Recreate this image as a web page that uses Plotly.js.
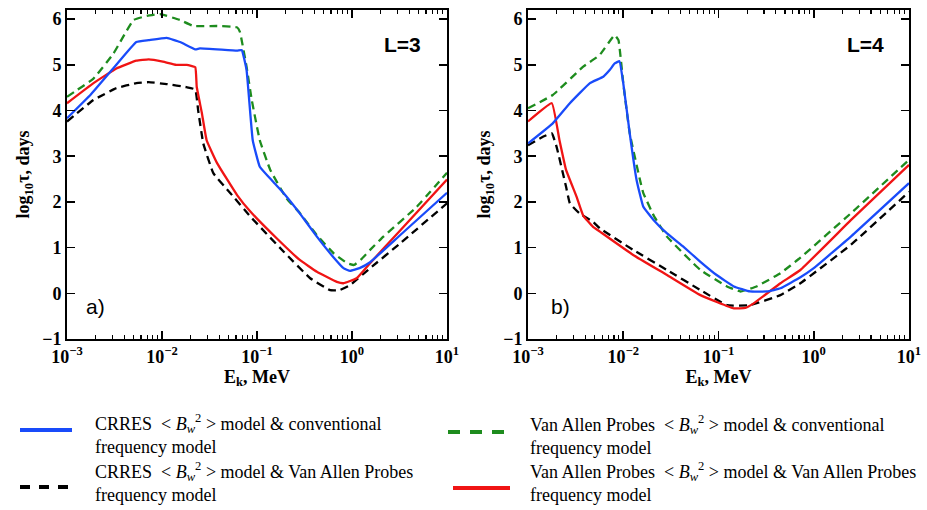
<!DOCTYPE html>
<html>
<head>
<meta charset="utf-8">
<script src="https://cdn.plot.ly/plotly-3.0.1.min.js"></script>
<style>html,body{margin:0;padding:0;background:#fff;}#chart{width:927px;height:510px;}</style>
</head>
<body>
<div id="chart"></div>
<script>
// ---------- Data (E_k in MeV, log10 tau in days) ----------
// Panel a) L=3
const L3_blue_E   = [0.001, 0.00178, 0.00309, 0.00537, 0.00724, 0.0112, 0.0155, 0.0224, 0.0251, 0.0617, 0.0692, 0.0776, 0.0902, 0.107, 0.148, 0.191, 0.282, 0.427, 0.631, 0.813, 0.955, 1.2, 1.55, 3.16, 10];
const L3_blue_tau = [3.83, 4.35, 4.93, 5.5, 5.54, 5.59, 5.5, 5.34, 5.36, 5.31, 5.32, 4.89, 3.35, 2.77, 2.44, 2.19, 1.75, 1.24, 0.8, 0.55, 0.49, 0.55, 0.68, 1.26, 2.2];

const L3_green_E   = [0.001, 0.0019, 0.00309, 0.00501, 0.00692, 0.00955, 0.0155, 0.0214, 0.038, 0.0617, 0.0661, 0.0776, 0.0881, 0.107, 0.138, 0.204, 0.282, 0.427, 0.646, 0.891, 1.05, 1.26, 1.55, 2.14, 4.79, 10];
const L3_green_tau = [4.3, 4.7, 5.25, 5.98, 6.07, 6.11, 5.98, 5.85, 5.85, 5.82, 5.72, 4.96, 4.23, 3.35, 2.7, 2.08, 1.76, 1.27, 0.87, 0.66, 0.62, 0.75, 0.95, 1.24, 1.89, 2.64];

const L3_red_E   = [0.001, 0.0019, 0.00331, 0.00537, 0.00724, 0.0102, 0.0141, 0.0182, 0.0224, 0.0232, 0.0263, 0.0295, 0.038, 0.0617, 0.0851, 0.162, 0.282, 0.427, 0.692, 0.813, 1.12, 1.55, 3.16, 10];
const L3_red_tau = [4.16, 4.6, 4.92, 5.09, 5.12, 5.07, 5.0, 5.0, 4.95, 4.52, 3.94, 3.35, 2.85, 2.15, 1.79, 1.2, 0.73, 0.47, 0.25, 0.22, 0.33, 0.66, 1.36, 2.49];

const L3_black_E   = [0.001, 0.0019, 0.00331, 0.00537, 0.00724, 0.0112, 0.0182, 0.0224, 0.024, 0.0272, 0.0347, 0.0525, 0.0851, 0.191, 0.363, 0.589, 0.741, 0.955, 1.55, 3.16, 10];
const L3_black_tau = [3.76, 4.23, 4.49, 4.6, 4.62, 4.58, 4.51, 4.46, 4.01, 3.28, 2.63, 2.19, 1.68, 0.91, 0.33, 0.07, 0.07, 0.18, 0.55, 1.08, 1.97];

// Panel b) L=4
const L4_blue_E   = [0.001, 0.00182, 0.00275, 0.00447, 0.00617, 0.00724, 0.00813, 0.00912, 0.01, 0.0117, 0.0138, 0.0162, 0.0209, 0.0288, 0.0427, 0.0646, 0.0955, 0.145, 0.214, 0.324, 0.447, 0.724, 1.0, 2.45, 10];
const L4_blue_tau = [3.28, 3.72, 4.16, 4.6, 4.74, 4.89, 5.03, 5.08, 4.6, 3.5, 2.48, 1.9, 1.6, 1.31, 1.02, 0.69, 0.4, 0.15, 0.04, 0.04, 0.11, 0.35, 0.55, 1.24, 2.41];

const L4_green_E   = [0.001, 0.00182, 0.0038, 0.00562, 0.00813, 0.00891, 0.01, 0.0117, 0.0151, 0.0162, 0.0209, 0.0288, 0.0646, 0.123, 0.17, 0.251, 0.447, 0.724, 2.45, 10];
const L4_green_tau = [4.05, 4.34, 4.96, 5.21, 5.65, 5.54, 4.6, 3.5, 2.45, 2.2, 1.7, 1.24, 0.51, 0.15, 0.04, 0.15, 0.44, 0.78, 1.75, 2.92];

const L4_red_E   = [0.001, 0.00178, 0.00214, 0.00251, 0.00324, 0.0038, 0.00479, 0.00569, 0.0127, 0.0288, 0.0646, 0.145, 0.191, 0.234, 0.447, 0.724, 2.45, 10];
const L4_red_tau = [3.76, 4.16, 3.35, 2.7, 2.11, 1.7, 1.46, 1.35, 0.84, 0.4, -0.04, -0.33, -0.32, -0.22, 0.22, 0.51, 1.6, 2.81];

const L4_black_E   = [0.001, 0.00145, 0.00178, 0.002, 0.00251, 0.00275, 0.00347, 0.00479, 0.00569, 0.0127, 0.0288, 0.0646, 0.123, 0.214, 0.447, 0.724, 2.45, 10];
const L4_black_tau = [3.24, 3.43, 3.5, 3.2, 2.33, 1.97, 1.75, 1.57, 1.42, 0.95, 0.51, 0.07, -0.26, -0.26, -0.04, 0.22, 1.06, 2.22];

// Axis tick labels
const xTickVals = [0.001, 0.01, 0.1, 1, 10];
const xTickText = ['10<sup>\u22123</sup>', '10<sup>\u22122</sup>', '10<sup>\u22121</sup>', '10<sup>0</sup>', '10<sup>1</sup>'];
const yTickVals = [-1, 0, 1, 2, 3, 4, 5, 6];

// Legend labels
const legendLabels = [
  'CRRES  &lt; <i>B</i><sub><i>w</i></sub><sup>2</sup> &gt; model &amp; conventional<br>frequency model',
  'CRRES  &lt; <i>B</i><sub><i>w</i></sub><sup>2</sup> &gt; model &amp; Van Allen Probes<br>frequency model',
  'Van Allen Probes  &lt; <i>B</i><sub><i>w</i></sub><sup>2</sup> &gt; model &amp; conventional<br>frequency model',
  'Van Allen Probes  &lt; <i>B</i><sub><i>w</i></sub><sup>2</sup> &gt; model &amp; Van Allen Probes<br>frequency model'
];

// ---------- Styles ----------
const BLUE = 'rgb(25,75,250)';
const GREEN = 'rgb(30,140,30)';
const RED = 'rgb(240,20,20)';
const BLACK = 'rgb(0,0,0)';
const DASH = '8px,5px';

function tr(x, y, color, dash, xa, ya) {
  return {x: x, y: y, type: 'scatter', mode: 'lines', xaxis: xa, yaxis: ya,
    line: {color: color, width: 2.3, dash: dash, shape: 'spline', smoothing: 0.3},
    hoverinfo: 'x+y', showlegend: false};
}

const traces = [
  tr(L3_black_E, L3_black_tau, BLACK, DASH, 'x', 'y'),
  tr(L3_green_E, L3_green_tau, GREEN, DASH, 'x', 'y'),
  tr(L3_red_E, L3_red_tau, RED, 'solid', 'x', 'y'),
  tr(L3_blue_E, L3_blue_tau, BLUE, 'solid', 'x', 'y'),
  tr(L4_black_E, L4_black_tau, BLACK, DASH, 'x2', 'y2'),
  tr(L4_green_E, L4_green_tau, GREEN, DASH, 'x2', 'y2'),
  tr(L4_red_E, L4_red_tau, RED, 'solid', 'x2', 'y2'),
  tr(L4_blue_E, L4_blue_tau, BLUE, 'solid', 'x2', 'y2')
];

// minor log ticks (2..9 in every decade)
const minorVals = [];
for (let d = -3; d < 1; d++) for (let k = 2; k <= 9; k++) minorVals.push(k * Math.pow(10, d));

const M = {l: 67, r: 18, t: 10, b: 171};
const W = 927, H = 510;
const PW = W - M.l - M.r, PH = H - M.t - M.b;
const fx = p => (p - M.l) / PW;
const fy = p => (H - M.b - p) / PH;

const SERIF = '"Liberation Serif", "Times New Roman", serif';
const SANS = '"Liberation Sans", Arial, sans-serif';
const tickFont = {family: SERIF, size: 18, color: 'black', weight: 'bold'};
const titleFont = {family: SERIF, size: 18, color: 'black', weight: 'bold'};

function xaxisDef(domain, anchor) {
  return {type: 'log', domain: domain, anchor: anchor, range: [-3, 1],
    tickmode: 'array', tickvals: xTickVals, ticktext: xTickText,
    ticks: 'inside', ticklen: 8, tickwidth: 1.6, tickcolor: 'black',
    minor: {tickmode: 'array', tickvals: minorVals, ticks: 'inside', ticklen: 4, tickwidth: 1.2, tickcolor: 'black', showgrid: false},
    showline: true, linewidth: 2, linecolor: 'black', mirror: 'ticks',
    showgrid: false, zeroline: false, tickfont: tickFont,
    title: {text: '<b>E<sub>k</sub>, MeV</b>', font: titleFont, standoff: 4}};
}
function yaxisDef(anchor) {
  return {domain: [0, 1], anchor: anchor, range: [-1, 6.2],
    tickmode: 'array', tickvals: yTickVals,
    ticks: 'inside', ticklen: 8, tickwidth: 1.6, tickcolor: 'black',
    showline: true, linewidth: 2, linecolor: 'black', mirror: 'ticks',
    showgrid: false, zeroline: false, tickfont: tickFont,
    title: {text: '<b>log<sub>10</sub>\u03C4, days</b>', font: titleFont, standoff: 8}};
}

const annFontSans = {family: SANS, size: 21, color: 'black'};
const legFont = {family: SERIF, size: 18, color: 'black'};

const annotations = [
  {xref: 'x domain', yref: 'y domain', x: 0.884, y: 0.894, text: '<b>L=3</b>', showarrow: false, font: annFontSans, xanchor: 'center', yanchor: 'middle'},
  {xref: 'x domain', yref: 'y domain', x: 0.076, y: 0.10, text: 'a)', showarrow: false, font: annFontSans, xanchor: 'center', yanchor: 'middle'},
  {xref: 'x2 domain', yref: 'y2 domain', x: 0.885, y: 0.894, text: '<b>L=4</b>', showarrow: false, font: annFontSans, xanchor: 'center', yanchor: 'middle'},
  {xref: 'x2 domain', yref: 'y2 domain', x: 0.084, y: 0.10, text: 'b)', showarrow: false, font: annFontSans, xanchor: 'center', yanchor: 'middle'},
  {xref: 'paper', yref: 'paper', x: fx(93), y: fy(434), text: legendLabels[0], showarrow: false, font: legFont, xanchor: 'left', yanchor: 'middle', align: 'left'},
  {xref: 'paper', yref: 'paper', x: fx(93), y: fy(482), text: legendLabels[1], showarrow: false, font: legFont, xanchor: 'left', yanchor: 'middle', align: 'left'},
  {xref: 'paper', yref: 'paper', x: fx(528), y: fy(435), text: legendLabels[2], showarrow: false, font: legFont, xanchor: 'left', yanchor: 'middle', align: 'left'},
  {xref: 'paper', yref: 'paper', x: fx(528), y: fy(482), text: legendLabels[3], showarrow: false, font: legFont, xanchor: 'left', yanchor: 'middle', align: 'left'}
];

const shapes = [
  {type: 'line', xref: 'paper', yref: 'paper', x0: fx(20), x1: fx(72), y0: fy(430), y1: fy(430), line: {color: BLUE, width: 4}},
  {type: 'line', xref: 'paper', yref: 'paper', x0: fx(20), x1: fx(74), y0: fy(487), y1: fy(487), line: {color: BLACK, width: 4, dash: '10px,9px'}},
  {type: 'line', xref: 'paper', yref: 'paper', x0: fx(448), x1: fx(508), y0: fy(432), y1: fy(432), line: {color: GREEN, width: 4, dash: '12px,10px'}},
  {type: 'line', xref: 'paper', yref: 'paper', x0: fx(453), x1: fx(510), y0: fy(488), y1: fy(488), line: {color: RED, width: 4}}
];

const layout = {
  width: W, height: H, margin: M,
  paper_bgcolor: 'white', plot_bgcolor: 'white', showlegend: false,
  xaxis: xaxisDef([0, fx(447)], 'y'),
  yaxis: yaxisDef('x'),
  xaxis2: xaxisDef([fx(528), 1], 'y2'),
  yaxis2: yaxisDef('x2'),
  annotations: annotations,
  shapes: shapes
};

Plotly.newPlot('chart', traces, layout, {staticPlot: true, displayModeBar: false});
</script>
</body>
</html>
